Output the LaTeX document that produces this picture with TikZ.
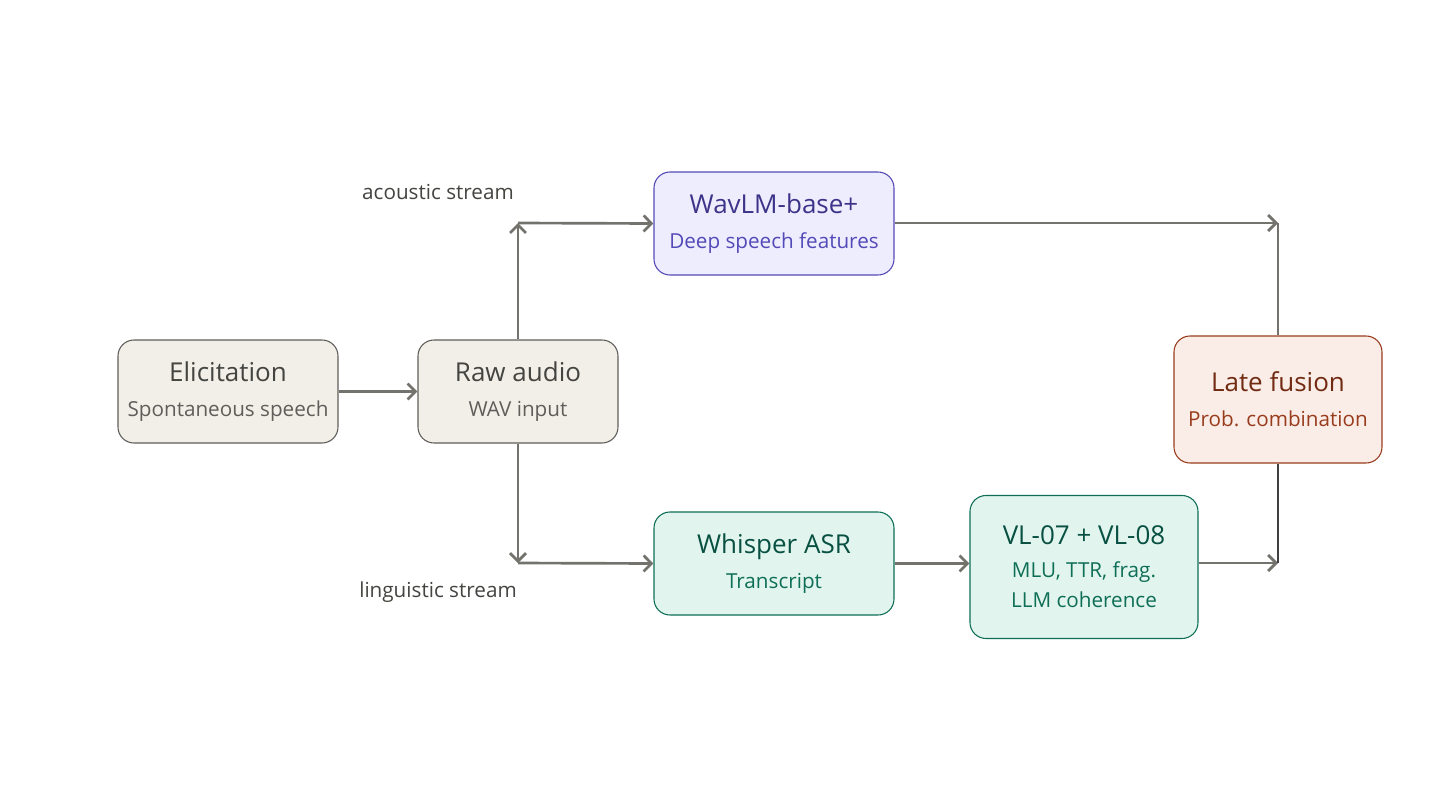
\documentclass[tikz,border=0pt]{standalone}
\usepackage{fontspec}
\setmainfont{Open Sans}
\usetikzlibrary{arrows.meta}
\definecolor{gf}{HTML}{F1EFE8}\definecolor{gs}{HTML}{5F5E5A}\definecolor{gt}{HTML}{444441}
\definecolor{pf}{HTML}{EEEDFE}\definecolor{ps}{HTML}{534AB7}\definecolor{pt}{HTML}{3C3489}
\definecolor{ef}{HTML}{E1F5EE}\definecolor{es}{HTML}{0F6E56}\definecolor{et}{HTML}{085041}
\definecolor{of}{HTML}{FAECE7}\definecolor{os}{HTML}{993C1D}\definecolor{ot}{HTML}{712B13}
\definecolor{ar}{HTML}{73726C}
\newcommand{\tl}[2]{{\fontsize{19.5}{26}\selectfont\color{#1}#2}}
\newcommand{\sbt}[2]{{\fontsize{15.5}{26}\selectfont\color{#1}#2}}
\tikzset{
 box/.style={draw, rounded corners=12pt, line width=0.8pt, align=center, inner sep=0pt, font=\fontsize{15.5}{26}\selectfont},
 arr/.style={draw=ar, line width=2pt, -{Straight Barb[length=6pt,width=12pt]}},
 ln/.style={draw=ar, line width=2pt},
 lbl/.style={font=\fontsize{15.5}{18}\selectfont, text=gt}
}
\begin{document}
\begin{tikzpicture}[x=0.75pt,y=-0.75pt]
\useasboundingbox[fill=white] (0,0) rectangle (1440,800);
\node[box, fill=gf, draw=gs, minimum width=220*0.75pt, minimum height=103*0.75pt] (eli) at (228,391.5)
 {\tl{gt}{Elicitation}\\\sbt{gs}{Spontaneous speech}};
\node[box, fill=gf, draw=gs, minimum width=200*0.75pt, minimum height=103*0.75pt] (raw) at (518,391.5)
 {\tl{gt}{Raw audio}\\\sbt{gs}{WAV input}};
\node[box, fill=pf, draw=ps, minimum width=240*0.75pt, minimum height=103*0.75pt] (wav) at (774,223.5)
 {\tl{pt}{WavLM-base+}\\\sbt{ps}{Deep speech features}};
\node[box, fill=ef, draw=es, minimum width=240*0.75pt, minimum height=103*0.75pt] (whi) at (774,563.5)
 {\tl{et}{Whisper ASR}\\\sbt{es}{Transcript}};
\node[box, fill=ef, draw=es, minimum width=228*0.75pt, minimum height=143*0.75pt, font=\fontsize{15.5}{22.5}\selectfont] (vl) at (1084,567)
 {\tl{et}{VL-07 + VL-08}\\[2.5pt]\sbt{es}{MLU, TTR, frag.}\\\sbt{es}{LLM coherence}};
\node[box, fill=of, draw=os, minimum width=208*0.75pt, minimum height=127*0.75pt] (fus) at (1278,399.5)
 {\tl{ot}{Late fusion}\\\sbt{os}{Prob. combination}};
\node[lbl] (la) at (438,192) {acoustic stream};
\node[lbl] (ll) at (438,592) {linguistic stream};
\coordinate (cu) at (518,223);
\coordinate (cd) at (518,563);
\coordinate (fu) at (1278,223);
\coordinate (fd) at (1278,563);
\draw[arr] (eli) -- (raw);
\draw[arr] (raw.north) -- (cu);
\draw[arr] (cu) -- (wav.west);
\draw[arr] (raw.south) -- (cd);
\draw[arr] (cd) -- (whi.west);
\draw[arr] (wav.east |- fu) -- (fu);
\draw[ln] (fu) -- (fus.north);
\draw[arr] (whi.east) -- (vl.west |- whi.east);
\draw[arr] (vl.east |- fd) -- (fd);
\draw[ln, draw=black!75] (fus.south) -- (fd);
\end{tikzpicture}
\end{document}
